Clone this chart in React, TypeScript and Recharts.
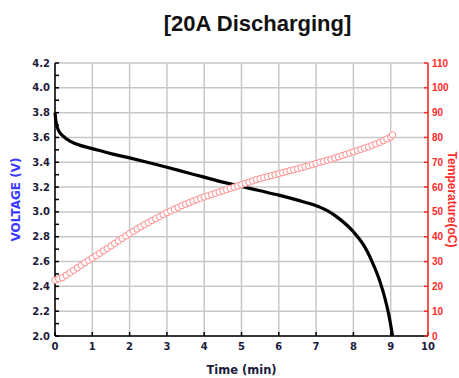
import { ComposedChart, Line, XAxis, YAxis, CartesianGrid } from 'recharts'

const timeTicks = [0, 1, 2, 3, 4, 5, 6, 7, 8, 9, 10]
const voltTicks = [2.0, 2.1, 2.2, 2.3, 2.4, 2.5, 2.6, 2.7, 2.8, 2.9, 3.0, 3.1, 3.2, 3.3, 3.4, 3.5, 3.6, 3.7, 3.8, 3.9, 4.0, 4.1, 4.2]
const tempTicks = [0, 10, 20, 30, 40, 50, 60, 70, 80, 90, 100, 110]

const voltTime = [0, 0.03, 0.09, 0.22, 0.4, 0.75, 1, 1.5, 2, 2.5, 3, 3.5, 4, 4.5, 5, 5.5, 6, 6.5, 7, 7.3, 7.6, 8, 8.3, 8.5, 8.7, 8.85, 8.95, 9.05]
const voltValue = [3.8, 3.72, 3.66, 3.61, 3.57, 3.53, 3.51, 3.47, 3.435, 3.398, 3.36, 3.32, 3.28, 3.24, 3.205, 3.17, 3.135, 3.095, 3.05, 3.01, 2.95, 2.84, 2.72, 2.6, 2.45, 2.3, 2.17, 2.0]

const tempTime = [
  0, 0.1, 0.2, 0.3, 0.4, 0.5, 0.6, 0.7, 0.8, 0.9, 1.0, 1.1, 1.2, 1.3, 1.4, 1.5, 1.6, 1.7, 1.8, 1.9,
  2.0, 2.1, 2.2, 2.3, 2.4, 2.5, 2.6, 2.7, 2.8, 2.9, 3.0, 3.1, 3.2, 3.3, 3.4, 3.5, 3.6, 3.7, 3.8, 3.9,
  4.0, 4.1, 4.2, 4.3, 4.4, 4.5, 4.6, 4.7, 4.8, 4.9, 5.0, 5.1, 5.2, 5.3, 5.4, 5.5, 5.6, 5.7, 5.8, 5.9,
  6.0, 6.1, 6.2, 6.3, 6.4, 6.5, 6.6, 6.7, 6.8, 6.9, 7.0, 7.1, 7.2, 7.3, 7.4, 7.5, 7.6, 7.7, 7.8, 7.9,
  8.0, 8.1, 8.2, 8.3, 8.4, 8.5, 8.6, 8.7, 8.8, 8.9, 9.0, 9.05,
]
const tempValue = [
  22.5, 23, 23.5, 24.5, 25.5, 26.5, 27.5, 28.5, 29.5, 30.5, 31.3, 32.3, 33.3, 34.3, 35.3, 36.3, 37.3, 38.3, 39.3, 40.3,
  41.3, 42.2, 43.1, 44, 44.9, 45.7, 46.5, 47.3, 48.1, 48.9, 49.7, 50.4, 51.1, 51.8, 52.5, 53.1, 53.7, 54.3, 54.9, 55.5,
  56, 56.5, 57, 57.5, 58, 58.5, 59, 59.5, 60, 60.5, 61, 61.5, 62, 62.5, 63, 63.4, 63.8, 64.2, 64.6, 65,
  65.4, 65.8, 66.2, 66.6, 67, 67.4, 67.8, 68.2, 68.6, 69, 69.5, 70, 70.4, 70.8, 71.2, 71.7, 72.2, 72.7, 73.2, 73.7,
  74.2, 74.7, 75.2, 75.7, 76.2, 76.8, 77.4, 78, 78.7, 79.4, 80.2, 81,
]

const voltData = voltTime.map((t, i) => ({ t, v: voltValue[i] }))
const tempData = tempTime.map((t, i) => ({ t, c: tempValue[i] }))

const DARK = '#1c1c3c'
const RED = '#ff2a2a'
const tickFont = { fontFamily: 'DejaVu Sans', fontSize: 10, fontWeight: 700 }

export default function App() {
  return (
    <div style={{ position: 'absolute', left: 0, top: 0, width: 459, height: 378, background: '#fff' }}>
      <div
        style={{
          position: 'absolute', left: 0, top: 11, width: 515, textAlign: 'center',
          fontFamily: 'Liberation Sans', fontWeight: 700, fontSize: 22, color: '#111',
        }}
      >
        [20A Discharging]
      </div>
      <ComposedChart width={459} height={378} margin={{ top: 63, right: 0, bottom: 0, left: 0 }}>
        <CartesianGrid yAxisId="temp" stroke="#c8c8c8" strokeWidth={1.5} />
        <XAxis
          xAxisId="top" orientation="top" type="number" domain={[0, 10]} ticks={timeTicks}
          height={0} tick={false} tickSize={-4} stroke="#000" strokeWidth={1.5}
        />
        <XAxis
          dataKey="t" type="number" domain={[0, 10]} ticks={timeTicks} interval={0}
          height={42} tickSize={-4} tickMargin={11} stroke="#000" strokeWidth={1.5}
          tick={{ ...tickFont, fill: DARK }}
          label={{
            value: 'Time (min)', position: 'insideBottom', offset: 4,
            style: { fontFamily: 'DejaVu Sans', fontSize: 11.5, fontWeight: 700, fill: DARK },
          }}
        />
        <YAxis
          yAxisId="v" type="number" domain={[2, 4.2]} ticks={voltTicks} interval={0}
          width={55} tickSize={-4} tickMargin={9} stroke="#000" strokeWidth={1.5}
          tick={{ ...tickFont, fill: DARK }}
          tickFormatter={(v: number) => (Math.round(v * 10) % 2 === 0 ? v.toFixed(1) : '')}
          label={{
            value: 'VOLTAGE (V)', angle: -90, position: 'insideLeft', offset: 16,
            style: { textAnchor: 'middle', fontFamily: 'DejaVu Sans', fontSize: 12, fontWeight: 700, fill: '#3b3bff' },
          }}
        />
        <YAxis
          yAxisId="temp" orientation="right" type="number" domain={[0, 110]} ticks={tempTicks} interval={0}
          width={31} tickSize={-4} tickMargin={8} stroke={RED} strokeWidth={1.5}
          tick={{ fontFamily: 'Liberation Sans', fontSize: 10, fontWeight: 700, fill: RED }}
          label={{
            value: 'Temperature(oC)', angle: 90, position: 'insideRight', offset: 7,
            style: { textAnchor: 'middle', fontFamily: 'Liberation Sans', fontSize: 12, fontWeight: 700, fill: RED },
          }}
        />
        <Line
          yAxisId="v" data={voltData} dataKey="v" type="monotone" stroke="#000" strokeWidth={3.2}
          dot={false} isAnimationActive={false}
        />
        <Line
          yAxisId="temp" data={tempData} dataKey="c" stroke="none" isAnimationActive={false}
          dot={{ r: 3.2, stroke: '#ff8c8c', strokeWidth: 1, fill: '#fff' }}
        />
      </ComposedChart>
    </div>
  )
}
